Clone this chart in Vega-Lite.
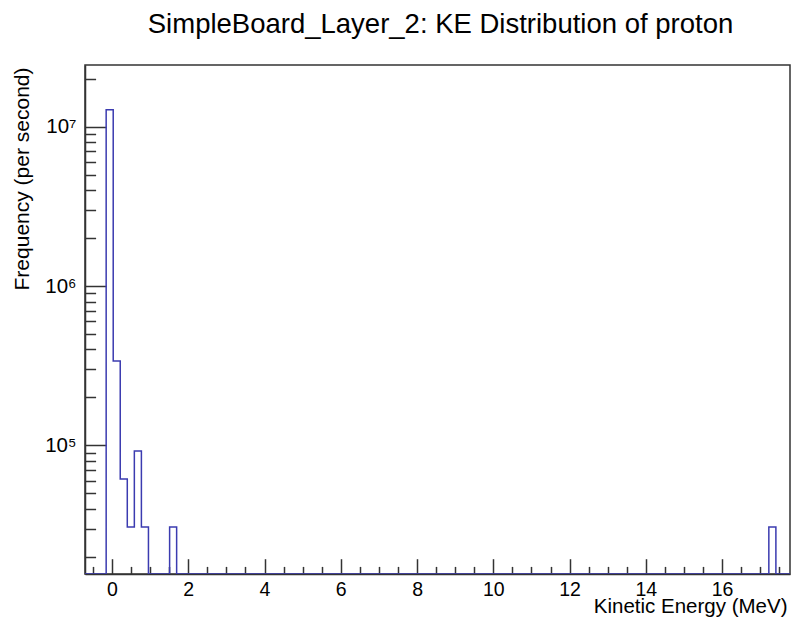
{
  "$schema": "https://vega.github.io/schema/vega-lite/v6.json",
  "width": 705,
  "height": 509,
  "autosize": {"type": "none"},
  "padding": {"left": 85, "top": 65, "right": 3, "bottom": 49},
  "background": "white",
  "title": {"text": "SimpleBoard_Layer_2: KE Distribution of proton", "fontSize": 27.5, "font": "Liberation Sans", "fontWeight": "normal", "color": "#000", "anchor": "middle", "frame": "group", "baseline": "alphabetic", "offset": 5, "dx": 3},
  "config": {
    "view": {"stroke": "#333", "strokeWidth": 1.5},
    "font": "Liberation Sans",
    "axis": {"domainColor": "#333", "domainWidth": 1.5, "tickColor": "#333", "tickWidth": 1.5, "grid": false, "zindex": 1, "labelColor": "#000", "titleColor": "#000", "labelFont": "Liberation Sans", "titleFont": "Liberation Sans", "titleFontWeight": "normal"}
  },
  "data": {"values": [
    {"lo": -0.708, "freq": null}, {"lo": -0.523, "freq": null}, {"lo": -0.338, "freq": null},
    {"lo": -0.153, "freq": 12800000}, {"lo": 0.032, "freq": 339000}, {"lo": 0.216, "freq": 61600},
    {"lo": 0.401, "freq": 30800}, {"lo": 0.586, "freq": 92400}, {"lo": 0.771, "freq": 30800},
    {"lo": 0.956, "freq": null}, {"lo": 1.141, "freq": null}, {"lo": 1.326, "freq": null},
    {"lo": 1.511, "freq": 30800}, {"lo": 1.695, "freq": null}, {"lo": 1.880, "freq": null},
    {"lo": 2.065, "freq": null}, {"lo": 2.250, "freq": null}, {"lo": 2.435, "freq": null},
    {"lo": 2.620, "freq": null}, {"lo": 2.805, "freq": null}, {"lo": 2.990, "freq": null},
    {"lo": 3.174, "freq": null}, {"lo": 3.359, "freq": null}, {"lo": 3.544, "freq": null},
    {"lo": 3.729, "freq": null}, {"lo": 3.914, "freq": null}, {"lo": 4.099, "freq": null},
    {"lo": 4.284, "freq": null}, {"lo": 4.469, "freq": null}, {"lo": 4.654, "freq": null},
    {"lo": 4.838, "freq": null}, {"lo": 5.023, "freq": null}, {"lo": 5.208, "freq": null},
    {"lo": 5.393, "freq": null}, {"lo": 5.578, "freq": null}, {"lo": 5.763, "freq": null},
    {"lo": 5.948, "freq": null}, {"lo": 6.133, "freq": null}, {"lo": 6.317, "freq": null},
    {"lo": 6.502, "freq": null}, {"lo": 6.687, "freq": null}, {"lo": 6.872, "freq": null},
    {"lo": 7.057, "freq": null}, {"lo": 7.242, "freq": null}, {"lo": 7.427, "freq": null},
    {"lo": 7.612, "freq": null}, {"lo": 7.796, "freq": null}, {"lo": 7.981, "freq": null},
    {"lo": 8.166, "freq": null}, {"lo": 8.351, "freq": null}, {"lo": 8.536, "freq": null},
    {"lo": 8.721, "freq": null}, {"lo": 8.906, "freq": null}, {"lo": 9.091, "freq": null},
    {"lo": 9.276, "freq": null}, {"lo": 9.460, "freq": null}, {"lo": 9.645, "freq": null},
    {"lo": 9.830, "freq": null}, {"lo": 10.015, "freq": null}, {"lo": 10.200, "freq": null},
    {"lo": 10.385, "freq": null}, {"lo": 10.570, "freq": null}, {"lo": 10.755, "freq": null},
    {"lo": 10.939, "freq": null}, {"lo": 11.124, "freq": null}, {"lo": 11.309, "freq": null},
    {"lo": 11.494, "freq": null}, {"lo": 11.679, "freq": null}, {"lo": 11.864, "freq": null},
    {"lo": 12.049, "freq": null}, {"lo": 12.234, "freq": null}, {"lo": 12.418, "freq": null},
    {"lo": 12.603, "freq": null}, {"lo": 12.788, "freq": null}, {"lo": 12.973, "freq": null},
    {"lo": 13.158, "freq": null}, {"lo": 13.343, "freq": null}, {"lo": 13.528, "freq": null},
    {"lo": 13.713, "freq": null}, {"lo": 13.898, "freq": null}, {"lo": 14.082, "freq": null},
    {"lo": 14.267, "freq": null}, {"lo": 14.452, "freq": null}, {"lo": 14.637, "freq": null},
    {"lo": 14.822, "freq": null}, {"lo": 15.007, "freq": null}, {"lo": 15.192, "freq": null},
    {"lo": 15.377, "freq": null}, {"lo": 15.561, "freq": null}, {"lo": 15.746, "freq": null},
    {"lo": 15.931, "freq": null}, {"lo": 16.116, "freq": null}, {"lo": 16.301, "freq": null},
    {"lo": 16.486, "freq": null}, {"lo": 16.671, "freq": null}, {"lo": 16.856, "freq": null},
    {"lo": 17.040, "freq": null}, {"lo": 17.225, "freq": 30800}, {"lo": 17.410, "freq": null},
    {"lo": 17.595, "freq": null}, {"lo": 17.780, "freq": null}
  ]},
  "layer": [
    {
      "mark": {"type": "line", "interpolate": "step-after", "clip": true, "color": "#3b3bb0", "strokeWidth": 1.5, "invalid": "show"},
      "encoding": {
        "x": {"field": "lo", "type": "quantitative",
          "scale": {"domain": [-0.708, 17.78], "nice": false, "zero": false},
          "axis": {"orient": "bottom", "values": [0, 2, 4, 6, 8, 10, 12, 14, 16], "ticks": false, "labelFontSize": 19.5, "labelPadding": 6, "labelFlush": false,
            "title": "Kinetic Energy (MeV)", "titleFontSize": 20.5, "titleAnchor": "end", "titleAlign": "right", "titleBaseline": "alphabetic", "titleX": 702, "titleY": 38}},
        "y": {"field": "freq", "type": "quantitative",
          "scale": {"type": "log", "domain": [15600, 24400000], "nice": false},
          "axis": {"orient": "left", "values": [100000, 1000000, 10000000], "ticks": false, "labelFontSize": 20.5, "labelPadding": 9,
            "labelExpr": "datum.value == 100000 ? '10⁵' : datum.value == 1000000 ? '10⁶' : '10⁷'",
            "title": "Frequency (per second)", "titleFontSize": 21, "titleAngle": 270, "titleAlign": "right", "titleBaseline": "alphabetic", "titleX": -57, "titleY": 2}}
      }
    },
    {
      "mark": {"type": "line", "opacity": 0, "invalid": "show"},
      "encoding": {
        "x": {"field": "lo", "type": "quantitative",
          "axis": {"orient": "bottom", "values": [-0.5, 0.5, 1, 1.5, 2.5, 3, 3.5, 4.5, 5, 5.5, 6.5, 7, 7.5, 8.5, 9, 9.5, 10.5, 11, 11.5, 12.5, 13, 13.5, 14.5, 15, 15.5, 16.5, 17, 17.5], "tickSize": -7.6, "labels": false, "domain": false, "title": null}},
        "y": {"field": "freq", "type": "quantitative",
          "axis": {"orient": "left", "values": [20000, 30000, 40000, 50000, 60000, 70000, 80000, 90000, 200000, 300000, 400000, 500000, 600000, 700000, 800000, 900000, 2000000, 3000000, 4000000, 5000000, 6000000, 7000000, 8000000, 9000000, 20000000], "tickSize": -10.6, "labels": false, "domain": false, "title": null}}
      }
    },
    {
      "mark": {"type": "line", "opacity": 0, "invalid": "show"},
      "encoding": {
        "x": {"field": "lo", "type": "quantitative",
          "axis": {"orient": "bottom", "values": [0, 2, 4, 6, 8, 10, 12, 14, 16], "tickSize": -15.3, "labels": false, "domain": false, "title": null}},
        "y": {"field": "freq", "type": "quantitative",
          "axis": {"orient": "left", "values": [100000, 1000000, 10000000], "tickSize": -21.2, "labels": false, "domain": false, "title": null}}
      }
    }
  ],
  "resolve": {"axis": {"x": "independent", "y": "independent"}}
}
